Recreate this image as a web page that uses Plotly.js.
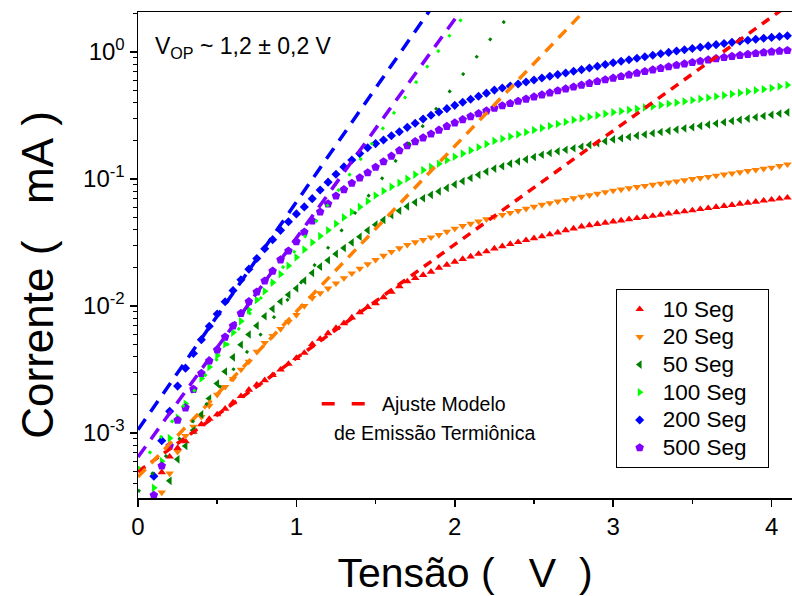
<!DOCTYPE html>
<html>
<head>
<meta charset="utf-8">
<script src="https://cdn.plot.ly/plotly-3.0.1.min.js"></script>
<style>
html,body{margin:0;padding:0;background:#ffffff;}
#chart{width:792px;height:596px;}
</style>
</head>
<body>
<div id="chart"></div>
<script>
// ---------------- DATA ----------------
const voltage = [
  0.10,0.15,0.20,0.25,0.30,0.35,0.40,0.45,0.50,0.55,
  0.60,0.65,0.70,0.75,0.80,0.85,0.90,0.95,1.00,1.05,
  1.10,1.15,1.20,1.25,1.30,1.35,1.40,1.45,1.50,1.55,
  1.60,1.65,1.70,1.75,1.80,1.85,1.90,1.95,2.00,2.05,
  2.10,2.15,2.20,2.25,2.30,2.35,2.40,2.45,2.50,2.55,
  2.60,2.65,2.70,2.75,2.80,2.85,2.90,2.95,3.00,3.05,
  3.10,3.15,3.20,3.25,3.30,3.35,3.40,3.45,3.50,3.55,
  3.60,3.65,3.70,3.75,3.80,3.85,3.90,3.95,4.00,4.05,
  4.10
];

const seriesNames = ['10 Seg','20 Seg','50 Seg','100 Seg','200 Seg','500 Seg'];

const current10s = [
  null,4.9e-4,6.5e-4,7.6e-4,8.6e-4,1.02e-3,1.17e-3,1.29e-3,1.40e-3,1.55e-3,
  1.74e-3,1.95e-3,2.19e-3,2.40e-3,2.60e-3,2.85e-3,3.15e-3,3.50e-3,3.89e-3,4.27e-3,
  5.0e-3,5.5e-3,6.1e-3,6.7e-3,7.3e-3,8.1e-3,8.9e-3,9.8e-3,0.0105,0.0117,
  0.0129,0.0143,0.0156,0.0166,0.0175,0.0186,0.0200,0.0211,0.0223,0.0234,
  0.0245,0.0257,0.0269,0.0283,0.0295,0.0307,0.0318,0.0330,0.0341,0.0353,
  0.0366,0.0379,0.0394,0.0407,0.0422,0.0432,0.0442,0.0452,0.0462,0.0471,
  0.0481,0.0491,0.0501,0.0512,0.0522,0.0533,0.0545,0.0555,0.0566,0.0578,
  0.0589,0.0601,0.0612,0.0624,0.0637,0.0649,0.0661,0.0675,0.0687,0.0700,
  0.0713
];

const current20s = [
  null,3.4e-4,4.8e-4,7.1e-4,9.5e-4,1.12e-3,1.34e-3,1.64e-3,2.0e-3,2.31e-3,
  2.67e-3,3.16e-3,3.65e-3,4.37e-3,5.13e-3,5.82e-3,6.6e-3,7.5e-3,8.5e-3,0.0100,
  0.01156,0.0126,0.01374,0.0151,0.0166,0.0181,0.0197,0.0214,0.0231,0.0249,
  0.0267,0.0285,0.0303,0.0318,0.0331,0.0347,0.0363,0.0385,0.0407,0.0427,
  0.0445,0.0463,0.0483,0.0504,0.0522,0.0542,0.0562,0.0583,0.0605,0.0627,
  0.0646,0.0665,0.0686,0.0706,0.0726,0.0746,0.0767,0.0789,0.0811,0.0828,
  0.0847,0.0865,0.0883,0.0902,0.0920,0.0940,0.0959,0.0979,0.100,0.102,
  0.104,0.1064,0.1086,0.1109,0.1132,0.1156,0.118,0.1205,0.123,0.1268,
  0.1306
];

const current50s = [
  null,null,4.2e-4,6.2e-4,7.9e-4,1.05e-3,1.40e-3,1.87e-3,2.45e-3,3.05e-3,
  3.94e-3,4.95e-3,5.96e-3,7.0e-3,8.3e-3,9.5e-3,0.01084,0.01225,0.01377,0.01585,
  0.0182,0.0204,0.0229,0.0257,0.0286,0.0316,0.0351,0.0394,0.0437,0.0476,
  0.052,0.0562,0.0608,0.0655,0.0705,0.075,0.0798,0.0851,0.0906,0.0962,
  0.1019,0.1079,0.1143,0.1208,0.126,0.132,0.1374,0.1429,0.149,0.1552,
  0.1603,0.1652,0.1698,0.1746,0.1795,0.1854,0.1919,0.1986,0.2051,0.2094,
  0.2143,0.2193,0.2239,0.2291,0.2344,0.2393,0.2449,0.2506,0.2559,0.2618,
  0.2679,0.2735,0.2799,0.2864,0.2924,0.2992,0.3062,0.3133,0.3199,0.3273,
  0.335
];

const current100s = [
  3.7e-4,6.0e-4,9.1e-4,1.32e-3,1.70e-3,2.19e-3,2.69e-3,3.31e-3,4.07e-3,5.0e-3,
  6.17e-3,7.59e-3,9.33e-3,0.01114,0.01306,0.01528,0.01778,0.02075,0.02415,0.0278,
  0.0316,0.0355,0.0395,0.0444,0.0498,0.055,0.0603,0.0668,0.0741,0.0804,
  0.0867,0.0933,0.1005,0.1084,0.1175,0.1245,0.1318,0.1406,0.1496,0.1585,
  0.1679,0.1778,0.1884,0.1995,0.2075,0.2158,0.2244,0.2333,0.2427,0.2518,
  0.2612,0.271,0.2812,0.2917,0.2999,0.3083,0.317,0.3258,0.335,0.342,
  0.35,0.357,0.366,0.373,0.382,0.391,0.399,0.408,0.417,0.427,
  0.436,0.446,0.456,0.467,0.476,0.488,0.499,0.509,0.521,0.535,
  0.55
];

const current200s = [
  4.57e-4,8.7e-4,1.48e-3,2.34e-3,3.24e-3,4.22e-3,5.43e-3,6.92e-3,8.65e-3,0.0108,
  0.01324,0.0161,0.0195,0.02366,0.0282,0.0333,0.0394,0.046,0.0531,0.0603,
  0.07,0.082,0.0944,0.109,0.1245,0.141,0.1585,0.176,0.19,0.203,
  0.219,0.2355,0.255,0.275,0.2965,0.3177,0.3373,0.358,0.38,0.402,
  0.4246,0.4487,0.4742,0.501,0.52,0.5395,0.5598,0.5808,0.6026,0.6237,
  0.6442,0.6637,0.6839,0.7047,0.7261,0.7487,0.7727,0.797,0.8222,0.8453,
  0.869,0.8933,0.9183,0.9441,0.9683,0.9931,1.0186,1.0423,1.0666,1.0914,
  1.1169,1.1429,1.1668,1.1912,1.2162,1.2388,1.2618,1.2823,1.3032,1.3243,
  1.3428
];

const current500s = [
  3.24e-4,5.5e-4,7.9e-4,1.26e-3,1.58e-3,2.21e-3,2.95e-3,3.70e-3,4.52e-3,5.70e-3,
  6.97e-3,8.75e-3,0.01084,0.01291,0.01574,0.01884,0.02312,0.02716,0.03206,0.0382,
  0.0468,0.055,0.0638,0.0736,0.0826,0.0927,0.1023,0.1122,0.1239,0.1368,
  0.1514,0.1675,0.1828,0.1972,0.2113,0.2265,0.2427,0.26,0.2767,0.2938,
  0.3105,0.3273,0.3443,0.3614,0.3776,0.3936,0.4102,0.4266,0.4436,0.4603,
  0.4775,0.4955,0.5129,0.5309,0.5495,0.5675,0.5861,0.6053,0.6237,0.6427,
  0.6622,0.6823,0.7031,0.7244,0.7447,0.7656,0.787,0.8072,0.8279,0.8472,
  0.867,0.8872,0.9057,0.9247,0.9419,0.9594,0.975,0.9908,1.0046,1.0163,
  1.028
];

// Thermionic-emission model fits: straight lines on the semilog plot (start and end points)
const fitVoltage = [
  [0, 4.13],  // 10 Seg
  [0, 2.85],  // 20 Seg
  [0, 2.40],  // 50 Seg
  [0, 2.10],  // 100 Seg
  [0, 1.85],  // 200 Seg
  [0, 2.05]   // 500 Seg
];
const fitCurrent = [
  [4.95e-4, 2.46],
  [4.51e-4, 2.32],
  [3.43e-4, 2.41],
  [5.21e-4, 2.29],
  [1.06e-3, 2.20],
  [6.47e-4, 2.21]
];

const xTickVals = [0, 1, 2, 3, 4];
const yTickVals = [0.001, 0.01, 0.1, 1];
const yTickText = ['10<sup>-3</sup>', '10<sup>-2</sup>', '10<sup>-1</sup>', '10<sup>0</sup>'];

// ---------------- STYLE ----------------
const allCurrents = [current10s, current20s, current50s, current100s, current200s, current500s];
const colors  = ['#ff0000', '#ff8000', '#008000', '#00ff00', '#0000ff', '#8000ff'];
const symbols = ['triangle-up', 'triangle-down', 'triangle-left', 'triangle-right', 'diamond', 'pentagon'];
const msizes  = [7.5, 7.5, 7.5, 7.5, 7, 9];
const fitDash = ['9px,7px', '11px,8px', '3px,19px', '3px,16px', '13px,9px', '13px,9px'];
const fitWidth = [3.5, 3.5, 3, 3, 3.5, 3.5];

const FONT = '"Liberation Sans", Arial, sans-serif';
const nb = '\u00a0';
const traces = [];

for (let i = 0; i < allCurrents.length; i++) {
  traces.push({
    type: 'scatter', mode: 'markers',
    name: '<span style="font-size:22.5px">' + seriesNames[i] + '</span>' + nb + nb + nb,
    x: voltage, y: allCurrents[i],
    marker: {symbol: symbols[i], size: msizes[i], color: colors[i], line: {width: 0}},
    showlegend: true
  });
}
for (let i = 0; i < fitVoltage.length; i++) {
  traces.push({
    type: 'scatter', mode: 'lines',
    x: fitVoltage[i], y: fitCurrent[i],
    line: {color: colors[i], width: fitWidth[i], dash: fitDash[i]},
    showlegend: false, hoverinfo: 'skip'
  });
}

// minor log ticks 2..9 per decade
const yMinor = [];
for (let e = -4; e <= 0; e++) {
  for (let m = 2; m <= 9; m++) yMinor.push(m * Math.pow(10, e));
}

const layout = {
  width: 792, height: 596,
  margin: {l: 138, r: 0, t: 12, b: 98, pad: 0},
  paper_bgcolor: '#ffffff', plot_bgcolor: '#ffffff',
  font: {family: FONT, color: '#000000'},
  xaxis: {
    range: [0, 4.129],
    tickmode: 'array', tickvals: xTickVals,
    ticks: 'outside', ticklen: 7, tickwidth: 1.5, tickcolor: '#000',
    showline: true, linewidth: 1.5, linecolor: '#000', mirror: true,
    showgrid: false, zeroline: false,
    tickfont: {size: 24, family: FONT, color: '#000'},
    minor: {tickmode: 'array', tickvals: [0.5, 1.5, 2.5, 3.5], ticks: 'outside', ticklen: 4, tickwidth: 1.5, tickcolor: '#000', showgrid: false},
    title: {text: 'Tensão (' + nb + nb + nb + 'V' + nb + nb + ')', font: {size: 41, family: FONT, color: '#000'}, standoff: 19},
    automargin: true
  },
  yaxis: {
    type: 'log',
    range: [-3.512, 0.315],
    tickmode: 'array', tickvals: yTickVals, ticktext: yTickText,
    ticks: 'outside', ticklen: 7, tickwidth: 1.5, tickcolor: '#000',
    showline: true, linewidth: 1.5, linecolor: '#000', mirror: false,
    showgrid: false, zeroline: false,
    tickfont: {size: 24, family: FONT, color: '#000'},
    minor: {tickmode: 'array', tickvals: yMinor, ticks: 'outside', ticklen: 4, tickwidth: 1.2, tickcolor: '#000', showgrid: false},
    automargin: false
  },
  legend: {
    x: 0.7304, y: 0.4294, xanchor: 'left', yanchor: 'top',
    bgcolor: '#ffffff', bordercolor: '#000000', borderwidth: 1,
    font: {size: 19, family: FONT, color: '#000'},
    itemwidth: 36,
    tracegroupgap: 0
  },
  shapes: [{
    type: 'line', xref: 'paper', yref: 'paper',
    x0: 0.2809, x1: 0.3471, y0: 0.194, y1: 0.194,
    line: {color: '#ff0000', width: 3.5, dash: '13px,17px'}
  }],
  annotations: [
    {xref: 'paper', yref: 'paper', x: -0.1549, y: 0.4588, xanchor: 'center', yanchor: 'middle', textangle: -90,
     text: 'Corrente (' + nb + nb + nb + 'mA' + nb + ')', showarrow: false, font: {size: 44, family: FONT, color: '#000'}},
    {xref: 'paper', yref: 'paper', x: 0.0234, y: 0.926, xanchor: 'left', yanchor: 'middle',
     text: 'V<sub>OP</sub> ~ 1,2 ± 0,2 V', showarrow: false, font: {size: 23, family: FONT, color: '#000'}},
    {xref: 'paper', yref: 'paper', x: 0.370, y: 0.1934, xanchor: 'left', yanchor: 'middle',
     text: 'Ajuste Modelo', showarrow: false, font: {size: 19.5, family: FONT, color: '#000'}},
    {xref: 'paper', yref: 'paper', x: 0.2962, y: 0.1337, xanchor: 'left', yanchor: 'middle',
     text: 'de Emissão Termiônica', showarrow: false, font: {size: 19.5, family: FONT, color: '#000'}}
  ]
};

Plotly.newPlot('chart', traces, layout, {staticPlot: true, displayModeBar: false});
</script>
</body>
</html>
